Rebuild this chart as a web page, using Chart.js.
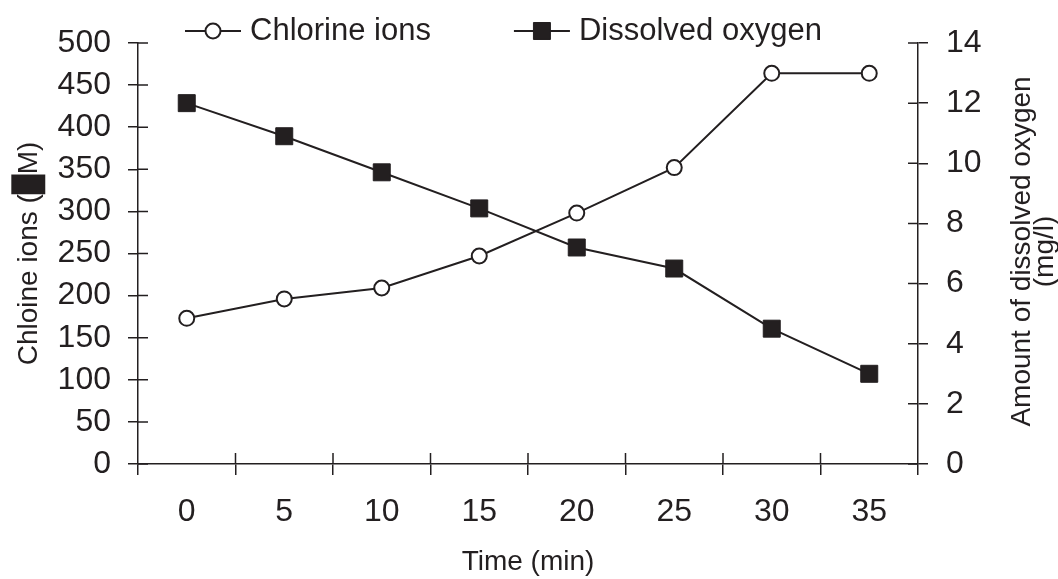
<!DOCTYPE html>
<html>
<head>
<meta charset="utf-8">
<script src="https://cdn.jsdelivr.net/npm/chart.js@4.4.1/dist/chart.umd.min.js"></script>
<style>
  html, body { margin: 0; padding: 0; background: #fff; }
  #wrap { width: 1058px; height: 579px; }
</style>
</head>
<body>
<div id="wrap"><canvas id="chart" width="1058" height="579"></canvas></div>
<script>
const timeLabels = ['0', '5', '10', '15', '20', '25', '30', '35'];
const chlorineIons = [173, 196, 209, 247, 298, 352, 464, 464];
const dissolvedOxygen = [12, 10.9, 9.7, 8.5, 7.2, 6.5, 4.5, 3];
const leftAxisTitle = 'Chloine ions (\u2588M)';
const rightAxisTitle = ['Amount of dissolved oxygen', '(mg/l)'];
const xAxisTitle = 'Time (min)';

const ink = '#231f20';
const fontFamily = '"Liberation Sans", Arial, sans-serif';
Chart.defaults.font.family = fontFamily;
Chart.defaults.color = ink;

function drawMarker(ctx, ds, x, y) {
    ctx.save();
    ctx.fillStyle = ds.pointBackgroundColor;
    ctx.strokeStyle = ds.pointBorderColor;
    ctx.lineWidth = ds.pointBorderWidth;
    ctx.beginPath();
    if (ds.pointStyle === 'rect') {
        const half = ds.pointRadius * Math.SQRT1_2;
        ctx.rect(x - half, y - half, half * 2, half * 2);
    } else {
        ctx.arc(x, y, ds.pointRadius, 0, Math.PI * 2);
    }
    ctx.fill();
    ctx.stroke();
    ctx.restore();
}

// the reference ticks cross the axis line; Chart.js only draws the outer half
const innerTicks = {
    id: 'innerTicks',
    afterDraw(chart) {
        const { ctx, chartArea, scales } = chart;
        ctx.save();
        ctx.strokeStyle = ink;
        ctx.lineWidth = 1.5;
        ctx.beginPath();
        scales.y.ticks.forEach((t, i) => {
            const py = scales.y.getPixelForTick(i);
            ctx.moveTo(chartArea.left, py);
            ctx.lineTo(chartArea.left + 10, py);
        });
        scales.y1.ticks.forEach((t, i) => {
            const py = scales.y1.getPixelForTick(i);
            ctx.moveTo(chartArea.right, py);
            ctx.lineTo(chartArea.right - 10, py);
        });
        const step = (scales.x.right - scales.x.left) / timeLabels.length;
        for (let i = 1; i < timeLabels.length; i++) {
            const px = scales.x.left + i * step;
            ctx.moveTo(px, chartArea.bottom);
            ctx.lineTo(px, chartArea.bottom - 11);
        }
        ctx.stroke();
        ctx.restore();
    }
};

// right title reads bottom-to-top in the reference, Chart.js would turn it the other way
const rightTitle = {
    id: 'rightTitle',
    afterDraw(chart) {
        const { ctx, chartArea } = chart;
        const s = chart.scales.y1;
        ctx.save();
        ctx.translate(s.right - 28, (chartArea.top + chartArea.bottom) / 2 - 2);
        ctx.rotate(-Math.PI / 2);
        ctx.font = '28px ' + fontFamily;
        ctx.fillStyle = ink;
        ctx.textAlign = 'center';
        ctx.textBaseline = 'alphabetic';
        ctx.fillText(rightAxisTitle[0], 0, 0);
        ctx.fillText(rightAxisTitle[1], 0, 23);
        ctx.restore();
    }
};

// legend with a line through the marker, like the original
const lineLegend = {
    id: 'lineLegend',
    afterDraw(chart) {
        const { ctx, chartArea } = chart;
        const y = chartArea.top - 12;
        let x = chartArea.left + 47;
        ctx.save();
        ctx.font = '31px ' + fontFamily;
        ctx.textBaseline = 'middle';
        chart.data.datasets.forEach(ds => {
            ctx.strokeStyle = ink;
            ctx.lineWidth = 2;
            ctx.beginPath();
            ctx.moveTo(x, y);
            ctx.lineTo(x + 56, y);
            ctx.stroke();
            drawMarker(ctx, ds, x + 28, y);
            ctx.fillStyle = ink;
            ctx.fillText(ds.label, x + 65, y);
            x += 65 + ctx.measureText(ds.label).width + 83;
        });
        ctx.restore();
    }
};

const axisGrid = { drawOnChartArea: false, tickLength: 10, color: ink, lineWidth: 1.5 };
const axisBorder = { color: ink, width: 1.5 };

new Chart(document.getElementById('chart'), {
    type: 'line',
    data: {
        labels: timeLabels,
        datasets: [{
            label: 'Chlorine ions',
            data: chlorineIons,
            yAxisID: 'y',
            borderColor: ink,
            borderWidth: 2,
            pointStyle: 'circle',
            pointRadius: 7.5,
            pointBorderWidth: 2,
            pointBackgroundColor: '#ffffff',
            pointBorderColor: ink,
            tension: 0
        }, {
            label: 'Dissolved oxygen',
            data: dissolvedOxygen,
            yAxisID: 'y1',
            borderColor: ink,
            borderWidth: 2,
            pointStyle: 'rect',
            pointRadius: 12,
            pointBorderWidth: 1,
            pointBackgroundColor: ink,
            pointBorderColor: ink,
            tension: 0
        }]
    },
    options: {
        responsive: false,
        animation: false,
        events: [],
        layout: { padding: { top: 43, left: 0, right: 0, bottom: 0 } },
        plugins: {
            legend: { display: false },
            tooltip: { enabled: false }
        },
        scales: {
            x: {
                offset: true,
                grid: { ...axisGrid, offset: true, tickLength: 11 },
                border: axisBorder,
                ticks: { font: { size: 32 }, padding: 18, color: ink, maxRotation: 0 },
                title: { display: true, text: xAxisTitle, font: { size: 28 }, color: ink, padding: { top: 0, bottom: 0 } },
                afterFit(s) { s.height = 115; }
            },
            y: {
                position: 'left',
                min: 0,
                max: 500,
                grid: axisGrid,
                border: axisBorder,
                ticks: { stepSize: 50, font: { size: 32 }, padding: 17, color: ink },
                title: { display: true, text: leftAxisTitle, font: { size: 28 }, color: ink, padding: { top: 12, bottom: 0 } },
                afterFit(s) { s.width = 138; }
            },
            y1: {
                position: 'right',
                min: 0,
                max: 14,
                grid: axisGrid,
                border: axisBorder,
                ticks: { stepSize: 2, font: { size: 32 }, padding: 18, color: ink },
                afterFit(s) { s.width = 140; }
            }
        }
    },
    plugins: [innerTicks, rightTitle, lineLegend]
});
</script>
</body>
</html>
